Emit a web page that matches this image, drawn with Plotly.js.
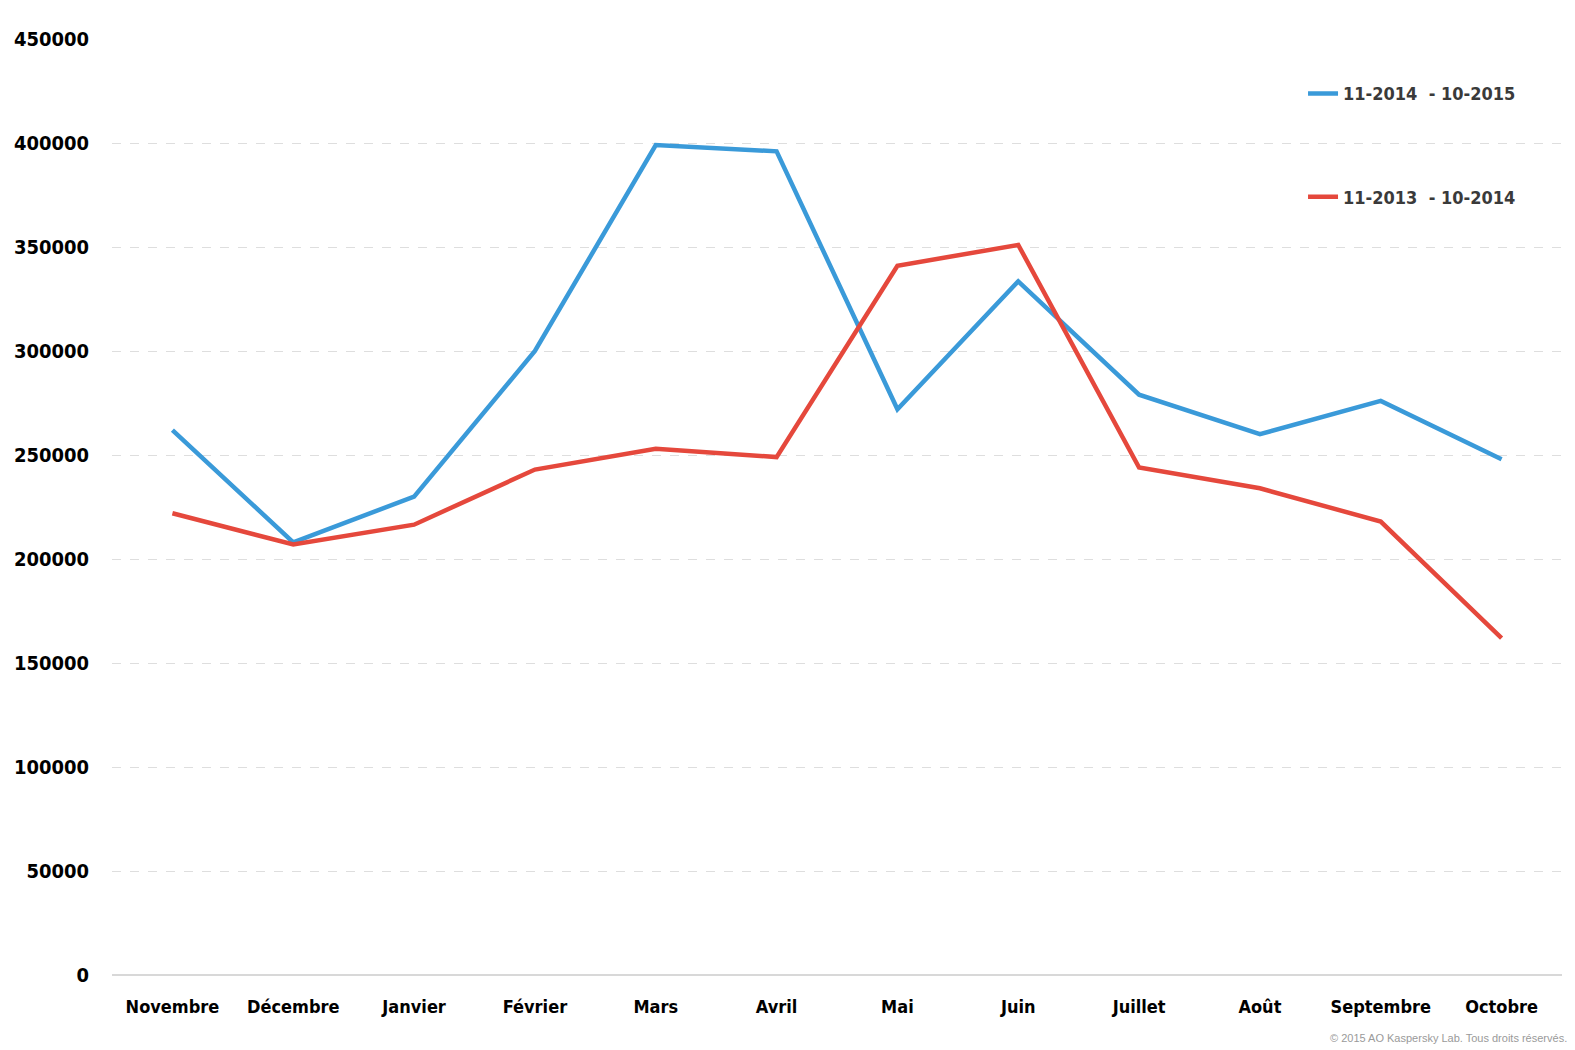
<!DOCTYPE html>
<html>
<head>
<meta charset="utf-8">
<script src="https://cdn.plot.ly/plotly-3.0.1.min.js"></script>
<style>
  html, body { margin: 0; padding: 0; background: #fff; overflow: hidden; }
  #chart { width: 1575px; height: 1050px; overflow: hidden; }
</style>
</head>
<body>
<div id="chart"></div>
<script>
// ─── Data ───
const months = [
  "Novembre", "Décembre", "Janvier", "Février", "Mars", "Avril",
  "Mai", "Juin", "Juillet", "Août", "Septembre", "Octobre",
];
const series2015 = [262000, 208000, 230000, 300000, 399000, 396000,
  272000, 333500, 279000, 260000, 276000, 248000];
const series2014 = [222000, 207000, 216500, 243000, 253000, 249000,
  341000, 351000, 244000, 234000, 218000, 162000];
const yTicks = [0, 50000, 100000, 150000, 200000, 250000, 300000, 350000, 400000, 450000];

const FONT = "'DejaVu Sans Condensed', 'Liberation Sans Narrow', sans-serif";

const traces = [
  {
    x: months,
    y: series2015,
    type: "scatter",
    mode: "lines",
    name: "11-2014  - 10-2015",
    legendgroup: "a",
    line: { color: "#3a9ad9", width: 4.5 },
  },
  {
    x: months,
    y: series2014,
    type: "scatter",
    mode: "lines",
    name: "11-2013  - 10-2014",
    legendgroup: "b",
    line: { color: "#e5483c", width: 4.5 },
  },
];

const layout = {
  width: 1575,
  height: 1050,
  paper_bgcolor: "#fff",
  plot_bgcolor: "#fff",
  margin: { l: 112, r: 13, t: 39, b: 75 },
  font: { family: FONT, color: "#000", size: 20 },
  xaxis: {
    type: "category",
    range: [-0.5, 11.5],
    automargin: false,
    showgrid: false,
    showline: false,
    zeroline: false,
    ticks: "",
    ticklabelstandoff: 19,
    tickfont: { family: FONT, size: 18, color: "#000", weight: "bold" },
  },
  yaxis: {
    range: [0, 450000],
    automargin: false,
    tickvals: yTicks,
    ticktext: yTicks.map(String),
    showgrid: true,
    gridcolor: "#dedede",
    griddash: "dash",
    gridwidth: 1,
    zeroline: true,
    zerolinecolor: "#d8d8d8",
    zerolinewidth: 1.5,
    ticks: "",
    ticklabelstandoff: 22,
    tickfont: { family: FONT, size: 20, color: "#000", weight: "bold" },
  },
  showlegend: true,
  legend: {
    x: 0.8214,
    y: 0.9613,
    xanchor: "left",
    yanchor: "top",
    bgcolor: "rgba(0,0,0,0)",
    tracegroupgap: 77,
    font: { family: FONT, size: 18, color: "#3a3a3a", weight: "bold" },
  },
  annotations: [
    {
      text: "© 2015 AO Kaspersky Lab. Tous droits réservés.",
      xref: "paper",
      yref: "paper",
      x: 1.005,
      y: -0.0673,
      xanchor: "right",
      yanchor: "middle",
      showarrow: false,
      font: { family: "'Liberation Sans', Arial, sans-serif", size: 11, color: "#9a9a9a" },
    },
  ],
};

Plotly.newPlot("chart", traces, layout, { displayModeBar: false, staticPlot: true });
</script>
</body>
</html>
